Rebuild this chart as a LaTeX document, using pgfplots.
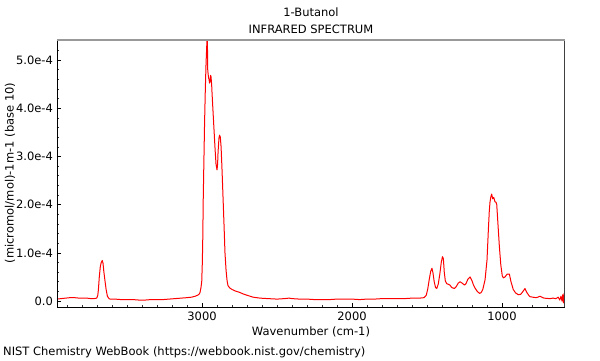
\documentclass[border=0pt]{standalone}
\usepackage{pgfplots}
\pgfplotsset{compat=1.18}
\usepackage{fontspec}
\setmainfont{DejaVu Sans}
\pgfplotstableread{
w v
3967 0.04
3940 0.05
3910 0.06
3880 0.07
3850 0.07
3820 0.06
3790 0.06
3767 0.06
3740 0.05
3720 0.05
3702 0.06
3695 0.12
3691 0.23
3685 0.50
3678 0.72
3672 0.80
3665 0.84
3660 0.78
3655 0.62
3647 0.42
3640 0.25
3631 0.10
3620 0.05
3613 0.04
3580 0.04
3540 0.03
3500 0.03
3460 0.03
3420 0.02
3380 0.02
3340 0.03
3300 0.03
3260 0.03
3220 0.04
3180 0.05
3140 0.06
3100 0.07
3070 0.08
3045 0.10
3030 0.12
3020 0.14
3013 0.18
3007 0.28
3002 0.40
2998 0.80
2995 1.30
2992 2.10
2987 3.00
2983 3.70
2978 4.40
2973 4.95
2969 5.25
2965 5.60
2962 4.80
2959 4.70
2956 4.62
2953 4.60
2950 4.52
2947 4.55
2943 4.68
2940 4.65
2936 4.50
2933 4.30
2927 3.95
2920 3.55
2913 3.15
2907 2.85
2900 2.72
2896 2.85
2893 3.10
2887 3.38
2883 3.44
2878 3.40
2873 3.20
2867 2.75
2860 2.15
2853 1.55
2847 1.00
2840 0.65
2833 0.42
2827 0.32
2815 0.27
2800 0.24
2780 0.21
2750 0.18
2720 0.14
2700 0.12
2660 0.08
2613 0.06
2560 0.05
2500 0.04
2450 0.05
2420 0.06
2400 0.05
2350 0.04
2300 0.04
2250 0.03
2200 0.03
2150 0.03
2100 0.04
2050 0.04
2000 0.04
1950 0.03
1900 0.04
1850 0.04
1800 0.05
1750 0.05
1700 0.05
1650 0.05
1600 0.06
1550 0.06
1520 0.07
1505 0.12
1495 0.25
1485 0.45
1475 0.62
1467 0.68
1460 0.58
1452 0.40
1443 0.28
1435 0.26
1425 0.35
1415 0.55
1405 0.80
1397 0.92
1391 0.88
1385 0.60
1378 0.42
1369 0.36
1360 0.35
1347 0.33
1335 0.28
1318 0.26
1305 0.30
1292 0.37
1280 0.40
1265 0.37
1250 0.33
1240 0.36
1228 0.45
1213 0.50
1200 0.42
1190 0.33
1180 0.27
1165 0.20
1150 0.16
1140 0.17
1128 0.24
1113 0.44
1100 0.85
1091 1.47
1085 1.85
1080 2.05
1075 2.15
1069 2.22
1062 2.12
1055 2.15
1047 2.06
1040 2.05
1035 2.00
1028 1.65
1018 1.15
1008 0.75
998 0.52
991 0.48
980 0.50
965 0.56
951 0.56
940 0.40
925 0.24
910 0.17
891 0.13
875 0.14
860 0.20
847 0.26
835 0.18
820 0.11
813 0.09
795 0.08
775 0.07
760 0.08
747 0.10
735 0.08
720 0.06
702 0.055
680 0.05
660 0.06
640 0.05
625 0.08
615 0.02
607 0.10
600 0.00
595 0.13
590 -0.04
586 0.16
583 -0.06
581 0.20
580 0.02
}\spec
\begin{document}
\begin{tikzpicture}[x=1pt,y=1pt]
\useasboundingbox (0,0) rectangle (600,360);
\fontsize{11.5}{13.5}\selectfont
\begin{axis}[
  at={(57pt,53pt)}, anchor=south west,
  scale only axis, width=508pt, height=267pt,
  x dir=reverse, xmin=580, xmax=3967,
  ymin=-0.124, ymax=5.415,
  axis line style={draw=none},
  tick align=inside, xtick pos=bottom, ytick pos=left,
  xtick={1000,2000,3000}, xticklabels={1000,2000,3000},
  minor xtick={700,800,...,3900},
  ytick={0,1,2,3,4,5},
  yticklabels={0.0,1.0e-4,2.0e-4,3.0e-4,4.0e-4,5.0e-4},
  minor ytick={0.2,0.4,...,5.4},
  major tick length=4pt, minor tick length=2.5pt,
  every tick/.style={black, line width=0.6pt},
  minor tick style={black!80, line width=0.5pt},
  tick label style={font=\fontsize{11.5}{13.5}\selectfont},
  xticklabel style={yshift=-1pt},
  clip=true,
]
\addplot[red, line width=1pt, line join=round] table[x=w,y=v] {\spec};
\draw[black, line width=0.8pt] (rel axis cs:0,1) -- (rel axis cs:0,0) -- (rel axis cs:1,0);
\draw[black!75, line width=1.3pt] (rel axis cs:1,0) -- (rel axis cs:1,1);
\draw[black!40, line width=2pt] (rel axis cs:0,1) -- (rel axis cs:1,1);
\end{axis}
\node[anchor=center] at (311,348) {1-Butanol};
\node[anchor=center] at (311,331) {INFRARED SPECTRUM};
\node[anchor=center] at (311,28) {Wavenumber (cm-1)};
\node[anchor=center, rotate=90] at (10,187) {(micromol/mol)-1m-1 (base 10)};
\node[anchor=west, inner sep=0pt] at (3,8) {NIST Chemistry WebBook (https://webbook.nist.gov/chemistry)};
\end{tikzpicture}
\end{document}
